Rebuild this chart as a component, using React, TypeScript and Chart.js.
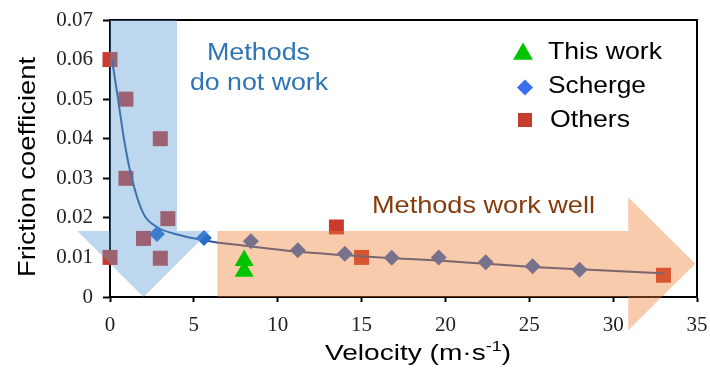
import React, { useEffect, useRef } from 'react';
import { Chart, registerables } from 'chart.js';

Chart.register(...registerables);

// ---------- data ----------
const seriesLabels = ['This work', 'Scherge', 'Others'];

const thisWorkX = [8.0, 8.0];
const thisWorkY = [0.0092, 0.0065];

const schergeX = [2.8, 5.6, 8.4, 11.2, 14.0, 16.8, 19.6, 22.4, 25.2, 28.0];
const schergeY = [0.0159, 0.0149, 0.0141, 0.0118, 0.0109, 0.0099, 0.0100, 0.0088, 0.0078, 0.0069];

const othersX = [0, 0, 0.95, 0.95, 2.0, 3.0, 3.0, 3.45, 13.5, 15.0, 33.0];
const othersY = [0.060, 0.010, 0.050, 0.030, 0.0148, 0.040, 0.0098, 0.0198, 0.0177, 0.010, 0.0055];

const fitX = [0.12, 0.48, 0.83, 1.3, 2.0, 2.8, 4.2, 6.2, 8.2, 11.1, 13.9, 16.8, 19.6, 22.4, 25.2, 28.0, 33.0];
const fitY = [0.060, 0.050, 0.040, 0.030, 0.021, 0.0177, 0.0156, 0.0139, 0.0129, 0.0115, 0.0106, 0.0098, 0.0092, 0.0084, 0.0076, 0.0070, 0.0060];

const xMin = 0, xMax = 35, xStep = 5;
const yMin = 0, yMax = 0.07, yStep = 0.01;

const xTitle = 'Velocity (m\u00B7s';
const xTitleSup = '-1';
const yTitle = 'Friction coefficient';
const noteBlue = ['Methods', 'do not work'];
const noteOrange = 'Methods work well';

const toPts = (xs: number[], ys: number[]) => xs.map((x, i) => ({ x, y: ys[i] }));

// ---------- colours ----------
const GREEN = '#00C400';
const BLUE_PT = '#2A6AC8';
const BLUE_LEGEND = '#3A6DF0';
const RED_PT = '#C83C30';
const FIT = '#2F5597';
const BLUE_OVER = 'rgba(91,155,213,0.4)';
const ORANGE_OVER = 'rgba(237,125,49,0.4)';

const SANS = '"Liberation Sans", Arial, sans-serif';
const SERIF = '"Liberation Serif", "Times New Roman", serif';

function fitText(ctx: CanvasRenderingContext2D, text: string, left: number, base: number, width: number, size: number, color: string) {
  ctx.save();
  ctx.font = `${size}px ${SANS}`;
  ctx.fillStyle = color;
  ctx.textAlign = 'left';
  ctx.textBaseline = 'alphabetic';
  const w = ctx.measureText(text).width;
  ctx.translate(left, base);
  ctx.scale(width / w, 1);
  ctx.fillText(text, 0, 0);
  ctx.restore();
}

const findDs = (chart: any, label: string) => chart.data.datasets.find((d: any) => d.label === label);

const overlayPlugin = {
  id: 'arrowOverlays',
  beforeDatasetsDraw(chart: any) {
    const { ctx, chartArea: a } = chart;
    ctx.save();
    ctx.strokeStyle = '#000';
    ctx.lineWidth = 2;
    ctx.beginPath();
    ctx.moveTo(a.left, a.top);
    ctx.lineTo(a.right, a.top);
    ctx.lineTo(a.right, a.bottom);
    ctx.stroke();
    ctx.restore();
  },
  afterDatasetDraw(chart: any, args: any) {
    if (chart.data.datasets[args.index].label !== seriesLabels[1]) return; // after Scherge, before "This work"
    const ctx = chart.ctx;
    const xs = chart.scales.x, ys = chart.scales.y;
    const poly = (pts: number[][], color: string) => {
      ctx.beginPath();
      pts.forEach(([x, y], i) => {
        const px = xs.getPixelForValue(x), py = ys.getPixelForValue(y);
        if (i === 0) ctx.moveTo(px, py); else ctx.lineTo(px, py);
      });
      ctx.closePath();
      ctx.fillStyle = color;
      ctx.fill();
    };
    ctx.save();
    poly([[0, 0.07], [4, 0.07], [4, 0.0167], [5.95, 0.0167], [2, 0], [-1.95, 0.0167], [0, 0.0167]], BLUE_OVER);
    poly([[6.4, 0], [6.4, 0.0167], [30.9, 0.0167], [30.9, 0.0252], [34.9, 0.0084], [30.9, -0.0084], [30.9, 0]], ORANGE_OVER);
    ctx.restore();
  },
  afterDraw(chart: any) {
    const ctx: CanvasRenderingContext2D = chart.ctx;
    // annotations
    fitText(ctx, noteBlue[0], 207, 60, 103, 23, '#2E75B6');
    fitText(ctx, noteBlue[1], 190, 90, 138, 23, '#2E75B6');
    fitText(ctx, noteOrange, 372, 213, 223, 24, '#843C0C');

    // legend
    const dTW = findDs(chart, seriesLabels[0]);
    const dSc = findDs(chart, seriesLabels[1]);
    const dOt = findDs(chart, seriesLabels[2]);
    ctx.save();
    ctx.fillStyle = dTW.backgroundColor;
    let cx = 523, cy = 54, r = 11.5;
    ctx.beginPath();
    ctx.moveTo(cx, cy - r);
    ctx.lineTo(cx + r * 0.866, cy + r / 2);
    ctx.lineTo(cx - r * 0.866, cy + r / 2);
    ctx.closePath();
    ctx.fill();
    ctx.fillStyle = BLUE_LEGEND;
    cx = 525; cy = 87.5; r = 8;
    ctx.beginPath();
    ctx.moveTo(cx, cy - r); ctx.lineTo(cx + r, cy); ctx.lineTo(cx, cy + r); ctx.lineTo(cx - r, cy);
    ctx.closePath();
    ctx.fill();
    ctx.fillStyle = dOt.backgroundColor;
    ctx.fillRect(525 - 7, 120 - 7, 14, 14);
    ctx.restore();
    fitText(ctx, dTW.label, 548, 59, 114, 24, '#000');
    fitText(ctx, dSc.label, 548, 93, 98, 24, '#000');
    fitText(ctx, dOt.label, 550, 127, 80, 24, '#000');

    // y title
    ctx.save();
    ctx.font = `24px ${SANS}`;
    ctx.fillStyle = '#000';
    ctx.textAlign = 'center';
    ctx.textBaseline = 'alphabetic';
    const wy = ctx.measureText(yTitle).width;
    ctx.translate(35, 167);
    ctx.rotate(-Math.PI / 2);
    ctx.scale(220 / wy, 1);
    ctx.fillText(yTitle, 0, 0);
    ctx.restore();

    // x title with superscript
    ctx.save();
    ctx.fillStyle = '#000';
    ctx.textAlign = 'left';
    ctx.textBaseline = 'alphabetic';
    ctx.font = `22px ${SANS}`;
    const w1 = ctx.measureText(xTitle).width;
    const w3 = ctx.measureText(')').width;
    ctx.font = `14px ${SANS}`;
    const w2 = ctx.measureText(xTitleSup).width;
    const total = w1 + w2 + w3;
    ctx.translate(325, 360);
    ctx.scale(186 / total, 1);
    ctx.font = `22px ${SANS}`;
    ctx.fillText(xTitle, 0, 0);
    ctx.font = `14px ${SANS}`;
    ctx.fillText(xTitleSup, w1, -9);
    ctx.font = `22px ${SANS}`;
    ctx.fillText(')', w1 + w2, 0);
    ctx.restore();
  },
};

export default function App() {
  const ref = useRef<HTMLCanvasElement>(null);
  useEffect(() => {
    const canvas = ref.current!;
    const chart = new Chart(canvas, {
      type: 'scatter',
      data: {
        datasets: [
          {
            label: seriesLabels[0],
            data: toPts(thisWorkX, thisWorkY),
            pointStyle: 'triangle',
            pointRadius: 11,
            backgroundColor: GREEN,
            borderColor: GREEN,
            borderWidth: 0,
            clip: false,
            order: 1,
          },
          {
            label: seriesLabels[1],
            data: toPts(schergeX, schergeY),
            pointStyle: 'rectRot',
            pointRadius: 8,
            backgroundColor: BLUE_PT,
            borderColor: BLUE_PT,
            borderWidth: 0,
            clip: false,
            order: 2,
          },
          {
            label: 'fit',
            data: toPts(fitX, fitY),
            showLine: true,
            pointRadius: 0,
            borderColor: FIT,
            borderWidth: 2,
            cubicInterpolationMode: 'monotone',
            clip: false,
            order: 3,
          },
          {
            label: seriesLabels[2],
            data: toPts(othersX, othersY),
            pointStyle: 'rect',
            pointRadius: 10.6,
            backgroundColor: RED_PT,
            borderColor: RED_PT,
            borderWidth: 0,
            clip: false,
            order: 4,
          },
        ],
      } as any,
      options: {
        responsive: false,
        animation: false,
        layout: { padding: { left: 0, top: 20, right: 13, bottom: 0 } },
        plugins: { legend: { display: false }, tooltip: { enabled: false } },
        scales: {
          x: {
            type: 'linear',
            min: xMin,
            max: xMax,
            afterFit: (s: any) => { s.height = 77; s.paddingLeft = 0; s.paddingRight = 0; },
            ticks: {
              stepSize: xStep,
              color: '#222',
              font: { family: SERIF, size: 21 },
              padding: 11,
              maxRotation: 0,
            },
            grid: { drawOnChartArea: false, drawTicks: true, tickLength: 5, tickWidth: 2, tickColor: '#000' },
            border: { display: true, color: '#000', width: 2 },
          },
          y: {
            type: 'linear',
            min: yMin,
            max: yMax,
            afterFit: (s: any) => { s.width = 110; s.paddingTop = 0; s.paddingBottom = 0; },
            ticks: {
              stepSize: yStep,
              color: '#222',
              font: { family: SERIF, size: 21 },
              padding: 10,
              callback: (v: any) => (Math.abs(v) < 1e-9 ? '0' : Number(v).toFixed(2)),
            },
            grid: { drawOnChartArea: false, drawTicks: true, tickLength: 7, tickWidth: 2, tickColor: '#000' },
            border: { display: true, color: '#000', width: 2 },
          },
        },
      } as any,
      plugins: [overlayPlugin],
    });
    return () => chart.destroy();
  }, []);
  return (
    <div style={{ position: 'absolute', left: 0, top: 0, width: 710, height: 374, background: '#fff' }}>
      <canvas ref={ref} width={710} height={374} style={{ width: 710, height: 374, display: 'block' }} />
    </div>
  );
}
